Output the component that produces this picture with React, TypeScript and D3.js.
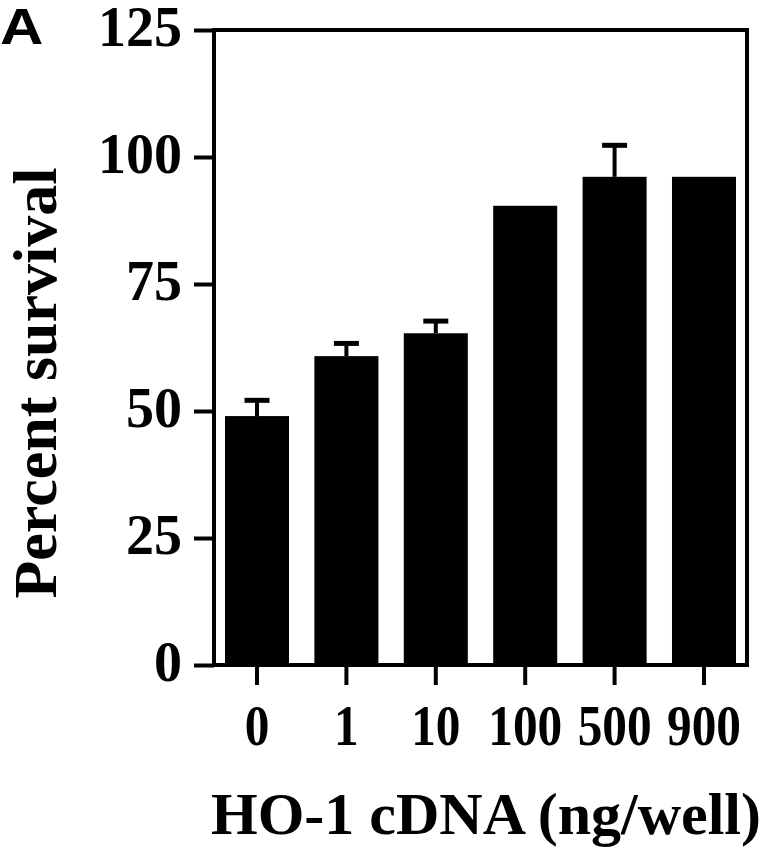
import React, { useEffect, useRef } from 'react';
import * as d3 from 'd3';

// HO-1 cDNA dose (ng/well) and percent survival
const doses = ['0', '1', '10', '100', '500', '900'];
const survival = [49.0, 60.8, 65.3, 90.4, 96.1, 96.1];
const sem = [3.1, 2.5, 2.4, 0, 6.2, 0];
const yTicks = [0, 25, 50, 75, 100, 125];

const serif = '"Liberation Serif", "Times New Roman", serif';

export default function App() {
  const ref = useRef<SVGSVGElement>(null);

  useEffect(() => {
    const svg = d3.select(ref.current);
    svg.selectAll('*').remove();

    const left = 214, right = 747, top = 30, bottom = 665;

    const x = d3.scaleBand()
      .domain(doses)
      .range([left, right])
      .paddingInner(0.284)
      .paddingOuter(0.123);

    const y = d3.scaleLinear()
      .domain([0, 125])
      .range([bottom, top]);

    const g = svg.append('g');

    // bars
    g.selectAll('.bar')
      .data(doses)
      .enter()
      .append('rect')
      .attr('class', 'bar')
      .attr('x', d => x(d)!)
      .attr('width', x.bandwidth())
      .attr('y', (d, i) => y(survival[i]))
      .attr('height', (d, i) => y(0) - y(survival[i]))
      .attr('fill', '#000');

    // error bars (upper half only, like a "T")
    const errIdx = doses.map((d, i) => i).filter(i => sem[i] > 0);
    g.selectAll('.stem')
      .data(errIdx)
      .enter()
      .append('line')
      .attr('x1', i => x(doses[i])! + x.bandwidth() / 2)
      .attr('x2', i => x(doses[i])! + x.bandwidth() / 2)
      .attr('y1', i => y(survival[i]))
      .attr('y2', i => y(survival[i] + sem[i]))
      .attr('stroke', '#000')
      .attr('stroke-width', 4);
    g.selectAll('.cap')
      .data(errIdx)
      .enter()
      .append('line')
      .attr('x1', i => x(doses[i])! + x.bandwidth() / 2 - 12.5)
      .attr('x2', i => x(doses[i])! + x.bandwidth() / 2 + 12.5)
      .attr('y1', i => y(survival[i] + sem[i]))
      .attr('y2', i => y(survival[i] + sem[i]))
      .attr('stroke', '#000')
      .attr('stroke-width', 5);

    // frame
    g.append('rect')
      .attr('x', left)
      .attr('y', top)
      .attr('width', right - left)
      .attr('height', bottom - top)
      .attr('fill', 'none')
      .attr('stroke', '#000')
      .attr('stroke-width', 4);

    // y axis
    const yAxis = d3.axisLeft(y)
      .tickValues(yTicks)
      .tickSize(20)
      .tickPadding(12);
    const gy = g.append('g')
      .attr('transform', `translate(${left},0)`)
      .call(yAxis);
    gy.select('.domain').remove();
    gy.selectAll('.tick line').attr('stroke', '#000').attr('stroke-width', 4);
    gy.selectAll('.tick text')
      .attr('font-family', serif)
      .attr('font-weight', 'bold')
      .attr('font-size', 56)
      .attr('dy', '0.28em')
      .attr('fill', '#000');

    // x axis
    const xAxis = d3.axisBottom(x)
      .tickSize(20)
      .tickPadding(20);
    const gx = g.append('g')
      .attr('transform', `translate(0,${bottom})`)
      .call(xAxis);
    gx.select('.domain').remove();
    gx.selectAll('.tick line').attr('stroke', '#000').attr('stroke-width', 4);
    gx.selectAll('.tick text')
      .attr('font-family', serif)
      .attr('font-weight', 'bold')
      .attr('font-size', 56)
      .attr('transform', 'scale(0.88,1)')
      .attr('fill', '#000');

    // axis titles
    g.append('text')
      .attr('x', 486)
      .attr('y', 834)
      .attr('text-anchor', 'middle')
      .attr('font-family', serif)
      .attr('font-weight', 'bold')
      .attr('font-size', 60)
      .text('HO-1 cDNA (ng/well)');

    g.append('text')
      .attr('transform', 'translate(56,383) rotate(-90)')
      .attr('text-anchor', 'middle')
      .attr('font-family', serif)
      .attr('font-weight', 'bold')
      .attr('font-size', 62)
      .text('Percent survival');

    // panel letter
    g.append('text')
      .attr('transform', 'translate(0,44) scale(1.2,1)')
      .attr('font-family', '"Liberation Sans", Arial, sans-serif')
      .attr('font-weight', 'bold')
      .attr('font-size', 50)
      .text('A');
  }, []);

  return (
    <svg
      ref={ref}
      width={772}
      height={853}
      style={{ position: 'absolute', left: 0, top: 0, background: '#fff' }}
    />
  );
}
